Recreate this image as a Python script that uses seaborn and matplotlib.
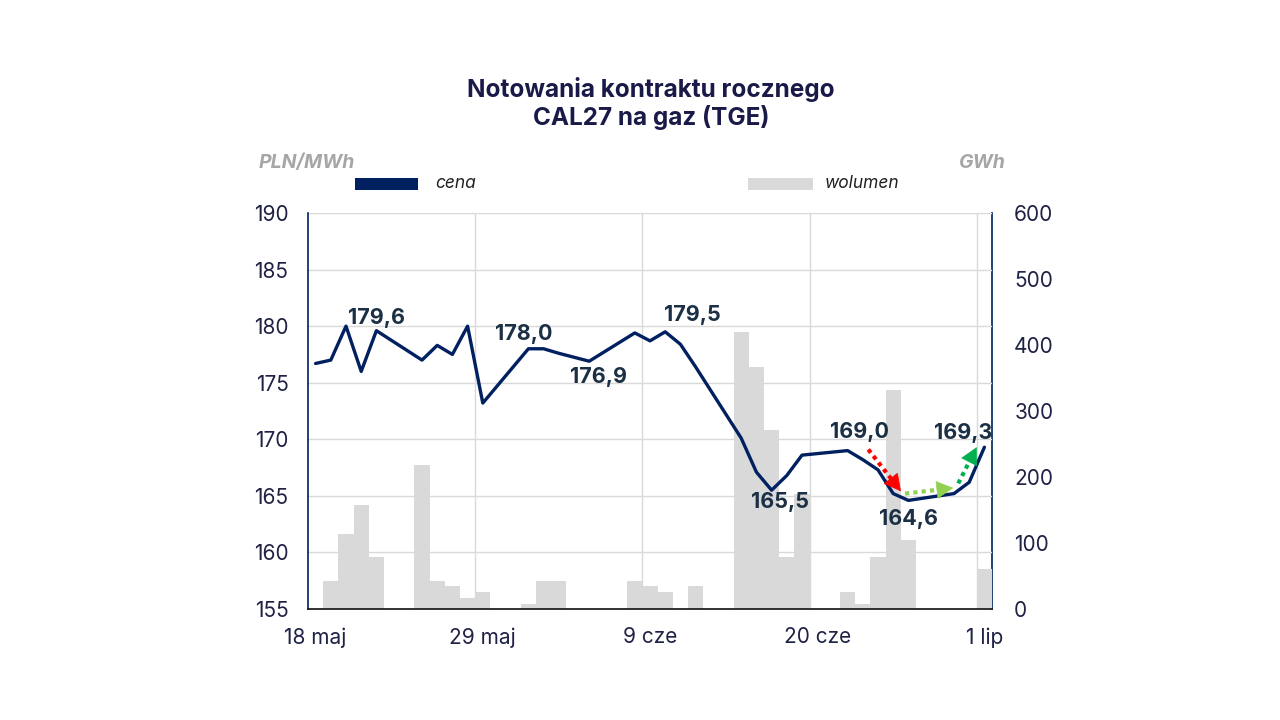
import numpy as np
import pandas as pd
import matplotlib.pyplot as plt
import seaborn as sns
from matplotlib.patches import Rectangle

# trading days and CAL27 gas prices (PLN/MWh)
price_dates = [
    "2026-05-18", "2026-05-19", "2026-05-20", "2026-05-21", "2026-05-22",
    "2026-05-25", "2026-05-26", "2026-05-27", "2026-05-28", "2026-05-29",
    "2026-06-01", "2026-06-02", "2026-06-03", "2026-06-05",
    "2026-06-08", "2026-06-09", "2026-06-10", "2026-06-11", "2026-06-12",
    "2026-06-15", "2026-06-16", "2026-06-17", "2026-06-18", "2026-06-19",
    "2026-06-22", "2026-06-23", "2026-06-24", "2026-06-25", "2026-06-26",
    "2026-06-29", "2026-06-30", "2026-07-01",
]
price_values = [
    176.7, 177.0, 180.0, 176.0, 179.6,
    177.0, 178.3, 177.5, 180.0, 173.2,
    178.0, 178.0, 177.6, 176.9,
    179.4, 178.7, 179.5, 178.4, 176.4,
    170.1, 167.1, 165.5, 166.8, 168.6,
    169.0, 168.2, 167.3, 165.2, 164.6,
    165.2, 166.2, 169.3,
]

# traded volume (GWh)
volume_dates = [
    "2026-05-19", "2026-05-20", "2026-05-21", "2026-05-22",
    "2026-05-25", "2026-05-26", "2026-05-27", "2026-05-28", "2026-05-29",
    "2026-06-01", "2026-06-02", "2026-06-03",
    "2026-06-08", "2026-06-09", "2026-06-10", "2026-06-12",
    "2026-06-15", "2026-06-16", "2026-06-17", "2026-06-18", "2026-06-19",
    "2026-06-22", "2026-06-23", "2026-06-24", "2026-06-25", "2026-06-26",
    "2026-07-01",
]
volume_values = [
    42, 114, 158, 79,
    218, 42, 35, 16, 26,
    8, 42, 42,
    42, 35, 26, 35,
    420, 367, 271, 79, 175,
    26, 8, 79, 332, 104,
    61,
]

tick_dates = ["2026-05-18", "2026-05-29", "2026-06-09", "2026-06-20", "2026-07-01"]
tick_labels = ["18 maj", "29 maj", "9 cze", "20 cze", "1 lip"]

# labelled points: date, offset of label in pixels
label_dates = ["2026-05-22", "2026-06-01", "2026-06-05", "2026-06-10",
               "2026-06-17", "2026-06-22", "2026-06-26", "2026-07-01"]
label_offsets = [(0, 13), (-5, 15), (9, -16), (27, 17),
                 (8, -12), (12, 19), (0, -19), (-21, 14)]

# dotted trend arrows, x in days from 18 maj, y in PLN/MWh
arrow_x0 = [36.86, 39.28, 42.78]
arrow_y0 = [169.1, 165.2, 166.1]
arrow_x1 = [39.01, 42.45, 43.99]
arrow_y1 = [165.4, 165.7, 169.3]
arrow_colors = ["#ff0000", "#92d050", "#00b050"]

NAVY = "#002060"
TEXT = "#1f2145"
LABEL = "#1b2f45"
GRID = "#d9d9d9"

P_MIN, P_MAX = 155, 190
V_MAX = 600

start = pd.Timestamp(price_dates[0])


def day_pos(d):
    """Day index from the first date, placed at the middle of the day slot."""
    return (pd.Timestamp(d) - start).days + 0.5


def v2p(v):
    return P_MIN + v * (P_MAX - P_MIN) / V_MAX


def p2v(p):
    return (p - P_MIN) * V_MAX / (P_MAX - P_MIN)


prices = pd.DataFrame({"x": [day_pos(d) for d in price_dates], "cena": price_values})
volumes = pd.DataFrame({"x": [day_pos(d) for d in volume_dates], "wolumen": volume_values})

sns.set_theme(style="white")
plt.rcParams["font.family"] = ["Inter", "DejaVu Sans"]

fig = plt.figure(figsize=(12.8, 7.2), dpi=100)
ax = fig.add_axes([308 / 1280, 1 - 609 / 720, 684 / 1280, 396 / 720])

# volume bars in the price scale, right axis shows GWh
ax.bar(volumes["x"], v2p(volumes["wolumen"]) - P_MIN, bottom=P_MIN, width=1.0,
       color="#d9d9d9", linewidth=0, zorder=2)

sns.lineplot(data=prices, x="x", y="cena", ax=ax, color=NAVY, linewidth=2.4,
             zorder=4, legend=False)

n_days = (pd.Timestamp(tick_dates[-1]) - start).days + 1
ax.set_xlim(0, n_days)
ax.set_ylim(P_MIN, P_MAX)
ax.set_yticks(range(P_MIN, P_MAX + 1, 5))
ax.set_xticks([day_pos(d) for d in tick_dates])
ax.set_xticklabels(tick_labels)
ax.set_xticks([day_pos(d) - 0.5 for d in tick_dates[1:]], minor=True)
ax.set_xlabel("")
ax.set_ylabel("")

ax.grid(axis="y", color=GRID, linewidth=1, zorder=0)
ax.grid(axis="x", which="minor", color=GRID, linewidth=1, zorder=0)
ax.grid(axis="x", which="major", visible=False)
ax.set_axisbelow(True)

ax.tick_params(axis="y", length=0, pad=14, labelsize=15, labelcolor=TEXT)
ax.tick_params(axis="x", which="both", length=0, pad=13, labelsize=15, labelcolor=TEXT)

for side in ["top", "right"]:
    ax.spines[side].set_visible(False)
ax.spines["left"].set_color(NAVY)
ax.spines["left"].set_linewidth(1.2)
ax.spines["bottom"].set_color("#111111")
ax.spines["bottom"].set_linewidth(1.2)

sec = ax.secondary_yaxis("right", functions=(p2v, v2p))
sec.set_yticks(range(0, V_MAX + 1, 100))
sec.tick_params(length=0, pad=16, labelsize=15, labelcolor=TEXT)
sec.spines["right"].set_color(NAVY)
sec.spines["right"].set_linewidth(1.2)

# data labels
price_by_date = dict(zip(price_dates, price_values))
for d, (dx, dy) in zip(label_dates, label_offsets):
    v = price_by_date[d]
    ax.annotate(f"{v:.1f}".replace(".", ","), xy=(day_pos(d), v),
                xytext=(dx, dy), textcoords="offset pixels",
                ha="center", va="center", fontsize=15.5, fontweight="bold",
                color=LABEL, zorder=6)

# dotted trend arrows: dotted shaft + solid head
head_px = 11
to_px = ax.transData
from_px = ax.transData.inverted()
for x0, y0, x1, y1, col in zip(arrow_x0, arrow_y0, arrow_x1, arrow_y1, arrow_colors):
    p0 = to_px.transform((x0, y0))
    p1 = to_px.transform((x1, y1))
    u = (p1 - p0) / np.hypot(*(p1 - p0))
    xb, yb = from_px.transform(p1 - u * head_px)
    ax.plot([x0, xb], [y0, yb], color=col, lw=3, linestyle=(0, (1, 1)),
            solid_capstyle="butt", dash_capstyle="butt", zorder=5)
    ax.annotate("", xy=(x1, y1), xytext=(xb, yb),
                arrowprops=dict(arrowstyle="-|>,head_length=0.75,head_width=0.4",
                                color=col, lw=0.5, mutation_scale=15,
                                shrinkA=0, shrinkB=0),
                zorder=5)

# title and axis units
fig.text(651 / 1280, 1 - 89 / 720, "Notowania kontraktu rocznego", ha="center", va="center",
         fontsize=17.5, fontweight="bold", color="#1a1a48")
fig.text(651 / 1280, 1 - 118 / 720, "CAL27 na gaz (TGE)", ha="center", va="center",
         fontsize=17.5, fontweight="bold", color="#1a1a48")
fig.text(307 / 1280, 1 - 163 / 720, "PLN/MWh", ha="center", va="center",
         fontsize=14, fontweight="bold", fontstyle="italic", color="#a6a6a6")
fig.text(982 / 1280, 1 - 163 / 720, "GWh", ha="center", va="center",
         fontsize=14, fontweight="bold", fontstyle="italic", color="#a6a6a6")

# legend
fig.add_artist(Rectangle((355 / 1280, 1 - 190 / 720), 63 / 1280, 12 / 720,
                         transform=fig.transFigure, color=NAVY, linewidth=0))
fig.text(435 / 1280, 1 - 184 / 720, "cena", ha="left", va="center",
         fontsize=12.5, fontstyle="italic", color="#222222")
fig.add_artist(Rectangle((748 / 1280, 1 - 190 / 720), 65 / 1280, 12 / 720,
                         transform=fig.transFigure, color="#d9d9d9", linewidth=0))
fig.text(825 / 1280, 1 - 184 / 720, "wolumen", ha="left", va="center",
         fontsize=12.5, fontstyle="italic", color="#222222")

fig.savefig("out.png", dpi=100, facecolor="white")
